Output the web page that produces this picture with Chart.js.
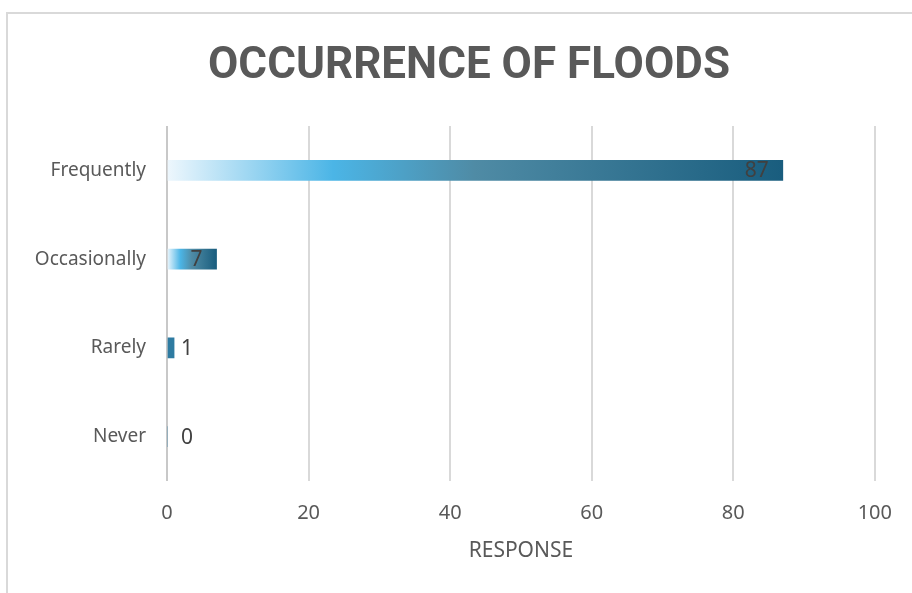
<!DOCTYPE html>
<html>
<head>
<meta charset="utf-8">
<script src="https://cdn.jsdelivr.net/npm/chart.js@4.4.1/dist/chart.umd.min.js"></script>
<style>
  body { margin: 0; background: #fff; overflow: hidden; }
  #wrap { position: relative; width: 912px; height: 593px; }
  #frame { position: absolute; left: 6px; top: 12px; width: 1000px; height: 1000px;
           border-left: 2px solid #d9d9d9; border-top: 2px solid #d9d9d9; }
  canvas { position: absolute; left: 0; top: 0; }
</style>
</head>
<body>
<div id="wrap">
  <div id="frame"></div>
  <canvas id="floodChart" width="912" height="593"></canvas>
</div>
<script>
// Survey data
const categories = ['Frequently', 'Occasionally', 'Rarely', 'Never'];
const responses = [87, 7, 1, 0];
const xTicks = [0, 20, 40, 60, 80, 100];
const chartTitle = 'OCCURRENCE OF FLOODS';

const textFont = '"Noto Sans", "Open Sans", sans-serif';

// Gradient across each bar, from very light at the base to dark teal at the end
function barFill(c) {
    const chart = c.chart;
    if (!chart.chartArea || c.type !== 'data') return '#2e7ba1';
    const scale = chart.scales.x;
    const x0 = scale.getPixelForValue(0);
    const x1 = scale.getPixelForValue(responses[c.dataIndex]);
    if (x1 - x0 < 10) return '#2e7ba1';
    const g = chart.ctx.createLinearGradient(x0, 0, x1, 0);
    g.addColorStop(0, '#eef7fd');
    g.addColorStop(0.27, '#4bb5e6');
    g.addColorStop(0.5, '#4f8ba5');
    g.addColorStop(1, '#195d7e');
    return g;
}

// Condensed bold title, squeezed horizontally to the narrow look of the original
const narrowTitle = {
    id: 'narrowTitle',
    afterDraw(chart) {
        const ctx = chart.ctx;
        ctx.save();
        ctx.font = 'bold 45px Roboto, "Noto Sans", sans-serif';
        ctx.fillStyle = '#595959';
        ctx.textAlign = 'center';
        ctx.textBaseline = 'alphabetic';
        const w = ctx.measureText(chartTitle).width;
        ctx.translate(469, 78);
        ctx.scale(522 / w, 1);
        ctx.fillText(chartTitle, 0, 0);
        ctx.restore();
    }
};

// Value labels: inside the end of long bars, just right of the axis for short ones
const barLabels = {
    id: 'barLabels',
    afterDatasetsDraw(chart) {
        const ctx = chart.ctx;
        const meta = chart.getDatasetMeta(0);
        const x0 = chart.scales.x.getPixelForValue(0);
        ctx.save();
        ctx.font = '21px ' + textFont;
        ctx.fillStyle = '#404040';
        ctx.textBaseline = 'middle';
        ctx.textAlign = 'left';
        meta.data.forEach((bar, i) => {
            const text = String(responses[i]);
            const w = ctx.measureText(text).width;
            const left = Math.max(bar.x - 14 - w, x0 + 14);
            ctx.fillText(text, left, bar.y + 1);
        });
        ctx.restore();
    }
};

new Chart(document.getElementById('floodChart').getContext('2d'), {
    type: 'bar',
    data: {
        labels: categories,
        datasets: [{
            label: 'Response',
            data: responses,
            backgroundColor: barFill,
            borderWidth: 0,
            barThickness: 20
        }]
    },
    plugins: [barLabels, narrowTitle],
    options: {
        indexAxis: 'y',
        responsive: false,
        animation: false,
        layout: { padding: { left: 0, right: 33, top: 126, bottom: 0 } },
        plugins: {
            legend: { display: false },
            tooltip: { enabled: false },
            title: { display: false }
        },
        scales: {
            x: {
                min: 0,
                max: 100,
                afterBuildTicks: scale => { scale.ticks = xTicks.map(v => ({ value: v })); },
                afterFit: scale => { scale.height = 112; },
                grid: {
                    color: c => c.tick && c.tick.value === 0 ? '#c8c8c8' : '#d9d9d9',
                    lineWidth: 2,
                    drawTicks: false
                },
                border: { display: false },
                ticks: { color: '#595959', font: { family: textFont, size: 20 }, padding: 20 },
                title: {
                    display: true,
                    text: 'RESPONSE',
                    color: '#595959',
                    font: { family: textFont, size: 21, lineHeight: 1.2 },
                    padding: { top: 6, bottom: 29 }
                }
            },
            y: {
                afterFit: scale => { scale.width = 167; },
                grid: { display: false, drawTicks: false },
                border: { display: false },
                ticks: { color: '#595959', font: { family: textFont, size: 19 }, padding: 21 }
            }
        }
    }
});
</script>
</body>
</html>
